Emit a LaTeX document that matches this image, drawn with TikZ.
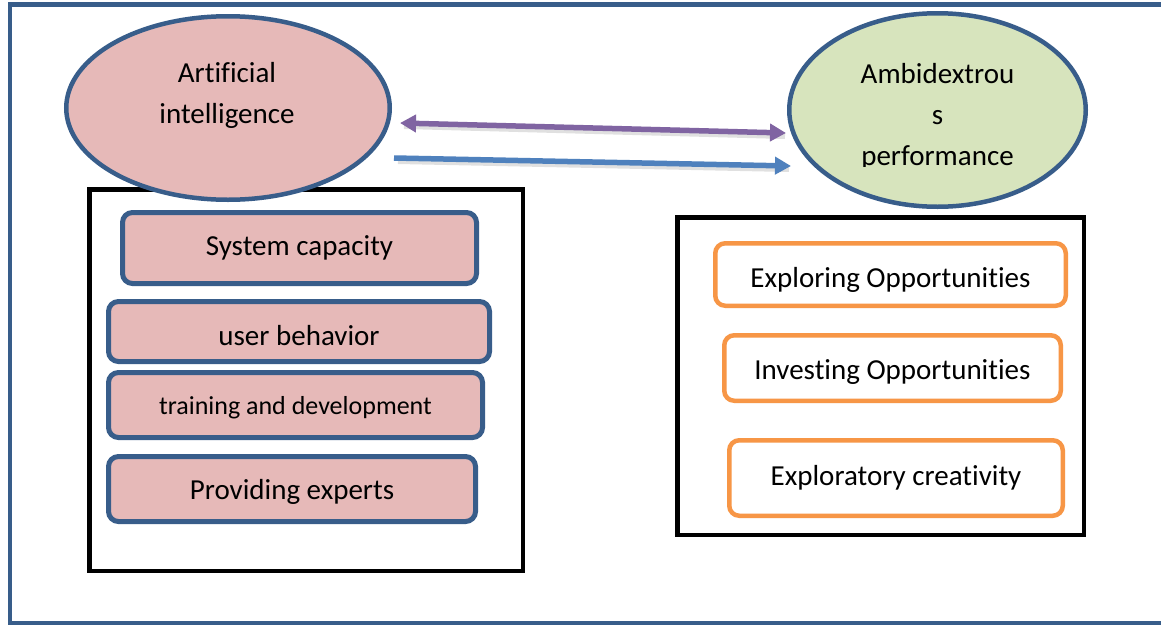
\documentclass[tikz,border=0pt]{standalone}
\usepackage{fontspec}
\setmainfont{Carlito}[Ligatures={NoCommon}]
\usetikzlibrary{arrows.meta,shapes.geometric}
\definecolor{frameblue}{HTML}{385D8A}
\definecolor{pinkfill}{HTML}{E6B9B8}
\definecolor{greenfill}{HTML}{D7E4BD}
\definecolor{orangeline}{HTML}{F79646}
\definecolor{purplearrow}{HTML}{8064A2}
\definecolor{bluearrow}{HTML}{4F81BD}
% lower a label inside its box without changing the box size
\newcommand{\lowerby}[2]{\raisebox{-#1}[\height][\depth]{#2}}
\tikzset{
  x=1pt, y=-1pt,
  blackframe/.style={draw=black, line width=4.5pt, fill=white},
  bubble/.style={ellipse, draw=frameblue, line width=4.5pt, inner sep=0pt},
  pinkbox/.style={draw=frameblue, fill=pinkfill, line width=5pt,
    rounded corners=10pt, font=\fontsize{29}{35}\selectfont, inner sep=0pt},
  orangebox/.style={draw=orangeline, fill=white, line width=4.5pt,
    rounded corners=10pt, font=\fontsize{29}{35}\selectfont, inner sep=0pt},
  tipshape/.style={-{Triangle[length=16pt,width=17pt]}},
  link/.style={line width=5.5pt, tipshape},
  twoway/.style={line width=5.5pt, {Triangle[length=16pt,width=17pt]}-{Triangle[length=16pt,width=17pt]}},
  arrowshade/.style={line width=6pt, draw=black, opacity=0.12},
  bubbletext/.style={align=center, font=\fontsize{29}{41}\selectfont, inner sep=0pt}
}
\begin{document}
\begin{tikzpicture}
\clip (0,0) rectangle (1161,624);
\fill[white] (0,0) rectangle (1161,624);

% page frame
\draw[frameblue, line width=4.5pt] (10,4.5) rectangle (1185,623);

% group frames
\node[blackframe, minimum width=433.5pt, minimum height=381.5pt] (leftgroup) at (306,380) {};
\node[blackframe, minimum width=406.5pt, minimum height=317.5pt] (rightgroup) at (880.5,376) {};

% the two concepts
\node[bubble, fill=pinkfill, minimum width=323.5pt, minimum height=183.5pt] (ai) at (228,108) {};
\node[bubbletext, anchor=base] (aitext) at (227,123) {Artificial\\intelligence};

\node[bubble, fill=greenfill, minimum width=296.5pt, minimum height=193.5pt] (ae) at (937.5,110) {};
\begin{scope}
  \clip (780,0) rectangle (1100,166);
  \node[bubbletext, anchor=base] (aetext) at (937.5,165) {Ambidextrou\\s\\performance};
\end{scope}

% dimensions of artificial intelligence
\node[pinkbox, minimum width=354pt, minimum height=71pt] (b1) at (299.5,248) {System capacity};
\node[pinkbox, minimum width=381pt, minimum height=60pt] (b2) at (299,331.5) {\lowerby{4pt}{user behavior}};
\node[pinkbox, minimum width=374pt, minimum height=65pt, font=\fontsize{26}{32}\selectfont] (b3) at (295.5,405) {\lowerby{3pt}{training and development}};
\node[pinkbox, minimum width=367pt, minimum height=65pt] (b4) at (292,489) {\lowerby{3pt}{Providing experts}};

% dimensions of ambidextrous performance
\node[orangebox, minimum width=350.5pt, minimum height=62.5pt] (o1) at (890.5,274.5) {\lowerby{5pt}{Exploring Opportunities}};
\node[orangebox, minimum width=336.5pt, minimum height=65.5pt] (o2) at (892.5,368) {\lowerby{4pt}{Investing Opportunities}};
\node[orangebox, minimum width=333.5pt, minimum height=75.5pt] (o3) at (896,478) {Exploratory creativity};

% relations between the concepts
\draw[arrowshade] ([shift={(12,18)}]ai.east) -- ([shift={(-2,26)}]ae.west);
\draw[arrowshade] ([shift={(6,53)}]ai.east) -- ([shift={(2,59)}]ae.west);
\draw[twoway, purplearrow] ([shift={(8,15)}]ai.east) -- ([shift={(-1,23)}]ae.west);
\draw[link, bluearrow] ([shift={(2,50)}]ai.east) -- ([shift={(4,56)}]ae.west);
\end{tikzpicture}
\end{document}
